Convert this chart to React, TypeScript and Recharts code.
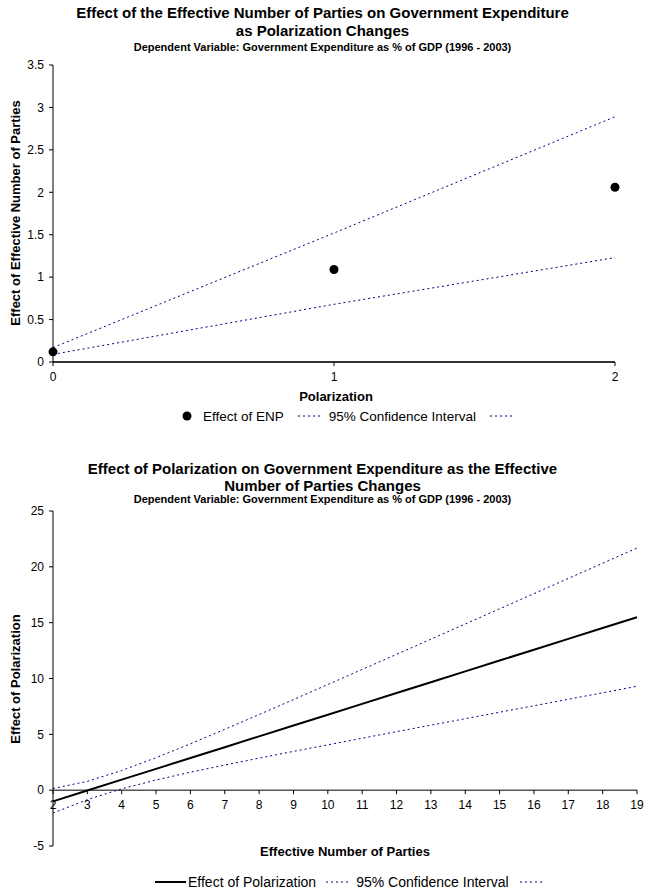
import { LineChart, Line, XAxis, YAxis, ReferenceLine } from 'recharts'

const FONT = "'Liberation Sans', Arial, sans-serif"
const CI_COLOR = '#000080'

// Chart 1: effect of ENP as polarization changes
const polarization = [0, 1, 2]
const enpEffect = [0.12, 1.09, 2.06]
const enpUpper = [0.17, 1.52, 2.89]
const enpLower = [0.09, 0.68, 1.23]
const enpYTicks = [0, 0.5, 1, 1.5, 2, 2.5, 3, 3.5]

// Chart 2: effect of polarization as ENP changes
const parties = [2, 3, 4, 5, 6, 7, 8, 9, 10, 11, 12, 13, 14, 15, 16, 17, 18, 19]
const polEffect = [-1.0, -0.03, 0.94, 1.91, 2.88, 3.85, 4.82, 5.79, 6.76, 7.73, 8.7, 9.67, 10.64, 11.61, 12.58, 13.55, 14.52, 15.49]
const polUpper = [0.15, 0.79, 1.76, 2.91, 4.15, 5.45, 6.77, 8.11, 9.46, 10.81, 12.16, 13.52, 14.88, 16.24, 17.6, 18.96, 20.32, 21.68]
const polLower = [-2.05, -0.85, 0.12, 0.91, 1.61, 2.25, 2.87, 3.47, 4.06, 4.65, 5.24, 5.82, 6.4, 6.98, 7.56, 8.14, 8.72, 9.3]
const polYTicks = [-5, 0, 5, 10, 15, 20, 25]

const topData = polarization.map((x, i) => ({
  x,
  effect: enpEffect[i],
  upper: enpUpper[i],
  lower: enpLower[i],
}))

const bottomData = parties.map((x, i) => ({
  x,
  effect: polEffect[i],
  upper: polUpper[i],
  lower: polLower[i],
}))

const BOT_PLOT_H = 335
const BOT_MIN = -5
const BOT_MAX = 25
// distance from bottom of plot up to the y=0 line
const ZERO_SHIFT = (BOT_PLOT_H * (0 - BOT_MIN)) / (BOT_MAX - BOT_MIN)

function PartyTick(props: any) {
  const { x, y, payload } = props
  const axisY = y - ZERO_SHIFT
  return (
    <g>
      <line x1={x} x2={x} y1={axisY} y2={axisY + 4} stroke="#000" />
      <text x={x} y={axisY + 19} textAnchor="middle" fontSize={12} fill="#000">
        {payload.value}
      </text>
    </g>
  )
}

function Text({ top, size, bold = true, children }: any) {
  return (
    <div
      style={{
        position: 'absolute',
        left: 0,
        width: 645,
        top: top - size / 2,
        lineHeight: `${size}px`,
        fontSize: size,
        fontWeight: bold ? 'bold' : 'normal',
        textAlign: 'center',
        whiteSpace: 'nowrap',
      }}
    >
      {children}
    </div>
  )
}

function AxisTitle({ x, y, children }: any) {
  return (
    <div
      style={{
        position: 'absolute',
        left: x,
        top: y,
        transform: 'translate(-50%, -50%)',
        fontSize: 13,
        fontWeight: 'bold',
        whiteSpace: 'nowrap',
      }}
    >
      {children}
    </div>
  )
}

function VAxisTitle({ x, y, children }: any) {
  return (
    <div
      style={{
        position: 'absolute',
        left: x,
        top: y,
        transform: 'translate(-50%, -50%) rotate(-90deg)',
        fontSize: 13,
        fontWeight: 'bold',
        whiteSpace: 'nowrap',
      }}
    >
      {children}
    </div>
  )
}

const DotIcon = () => (
  <svg width={10} height={10}>
    <circle cx={5} cy={5} r={4.5} fill="#000" />
  </svg>
)
const DashIcon = ({ w = 24 }: any) => (
  <svg width={w} height={4}>
    <line x1={0} x2={w} y1={2} y2={2} stroke={CI_COLOR} strokeDasharray="2 3" />
  </svg>
)
const SolidIcon = () => (
  <svg width={31} height={4}>
    <line x1={0} x2={31} y1={2} y2={2} stroke="#000" strokeWidth={2} />
  </svg>
)

export default function App() {
  return (
    <div
      style={{
        position: 'absolute',
        left: 0,
        top: 0,
        width: 645,
        height: 894,
        background: '#fff',
        fontFamily: FONT,
        color: '#000',
      }}
    >
      {/* top chart */}
      <Text top={12} size={15}>Effect of the Effective Number of Parties on Government Expenditure</Text>
      <Text top={30} size={15}>as Polarization Changes</Text>
      <Text top={47} size={11}>Dependent Variable: Government Expenditure as % of GDP (1996 - 2003)</Text>
      <div style={{ position: 'absolute', left: 0, top: 0 }}>
        <LineChart width={645} height={440} data={topData} margin={{ top: 65, right: 30, bottom: 48, left: 13 }}>
          <XAxis
            dataKey="x"
            type="number"
            domain={[0, 2]}
            ticks={polarization}
            height={30}
            tickSize={4}
            tickMargin={6}
            axisLine={{ stroke: '#333', strokeWidth: 2 }}
            tickLine={{ stroke: '#000' }}
            tick={{ fill: '#000', fontSize: 12 }}
          />
          <YAxis
            type="number"
            domain={[0, 3.5]}
            ticks={enpYTicks}
            width={40}
            tickSize={4}
            tickMargin={5}
            axisLine={{ stroke: '#000' }}
            tickLine={{ stroke: '#000' }}
            tick={{ fill: '#000', fontSize: 12 }}
          />
          <Line dataKey="upper" stroke={CI_COLOR} strokeDasharray="2 3" dot={false} activeDot={false} isAnimationActive={false} />
          <Line dataKey="lower" stroke={CI_COLOR} strokeDasharray="2 3" dot={false} activeDot={false} isAnimationActive={false} />
          <Line
            dataKey="effect"
            stroke="none"
            dot={{ r: 4.5, fill: '#000', stroke: '#000', strokeWidth: 0 }}
            activeDot={false}
            isAnimationActive={false}
          />
        </LineChart>
      </div>
      <VAxisTitle x={15} y={213}>Effect of Effective Number of Parties</VAxisTitle>
      <AxisTitle x={336} y={396}>Polarization</AxisTitle>
      <div style={{ position: 'absolute', left: 182, top: 408, height: 16, display: 'flex', alignItems: 'center', fontSize: 13.5, whiteSpace: 'nowrap' }}>
        <DotIcon />
        <span style={{ marginLeft: 11 }}>Effect of ENP</span>
        <span style={{ marginLeft: 14, display: 'flex' }}><DashIcon /></span>
        <span style={{ marginLeft: 7 }}>95% Confidence Interval</span>
        <span style={{ marginLeft: 14, display: 'flex' }}><DashIcon /></span>
      </div>

      {/* bottom chart */}
      <Text top={468} size={15}>Effect of Polarization on Government Expenditure as the Effective</Text>
      <Text top={485} size={15}>Number of Parties Changes</Text>
      <Text top={499} size={11}>Dependent Variable: Government Expenditure as % of GDP (1996 - 2003)</Text>
      <div style={{ position: 'absolute', left: 0, top: 440 }}>
        <LineChart width={645} height={454} data={bottomData} margin={{ top: 71, right: 8, bottom: 18, left: 13 }}>
          <XAxis
            dataKey="x"
            type="number"
            domain={[2, 19]}
            ticks={parties}
            interval={0}
            height={30}
            tickSize={0}
            tickMargin={0}
            axisLine={false}
            tickLine={false}
            tick={<PartyTick />}
          />
          <YAxis
            type="number"
            domain={[BOT_MIN, BOT_MAX]}
            ticks={polYTicks}
            width={40}
            tickSize={4}
            tickMargin={5}
            axisLine={{ stroke: '#000' }}
            tickLine={{ stroke: '#000' }}
            tick={{ fill: '#000', fontSize: 12 }}
          />
          <ReferenceLine y={0} stroke="#000" />
          <Line dataKey="upper" stroke={CI_COLOR} strokeDasharray="2 3" dot={false} activeDot={false} isAnimationActive={false} />
          <Line dataKey="lower" stroke={CI_COLOR} strokeDasharray="2 3" dot={false} activeDot={false} isAnimationActive={false} />
          <Line dataKey="effect" stroke="#000" strokeWidth={2} dot={false} activeDot={false} isAnimationActive={false} />
        </LineChart>
      </div>
      <VAxisTitle x={15} y={679}>Effect of Polarization</VAxisTitle>
      <AxisTitle x={345} y={851}>Effective Number of Parties</AxisTitle>
      <div style={{ position: 'absolute', left: 155, top: 874, height: 16, display: 'flex', alignItems: 'center', fontSize: 14, whiteSpace: 'nowrap' }}>
        <span style={{ display: 'flex' }}><SolidIcon /></span>
        <span style={{ marginLeft: 2 }}>Effect of Polarization</span>
        <span style={{ marginLeft: 10, display: 'flex' }}><DashIcon w={25} /></span>
        <span style={{ marginLeft: 5 }}>95% Confidence Interval</span>
        <span style={{ marginLeft: 11, display: 'flex' }}><DashIcon w={25} /></span>
      </div>
    </div>
  )
}
